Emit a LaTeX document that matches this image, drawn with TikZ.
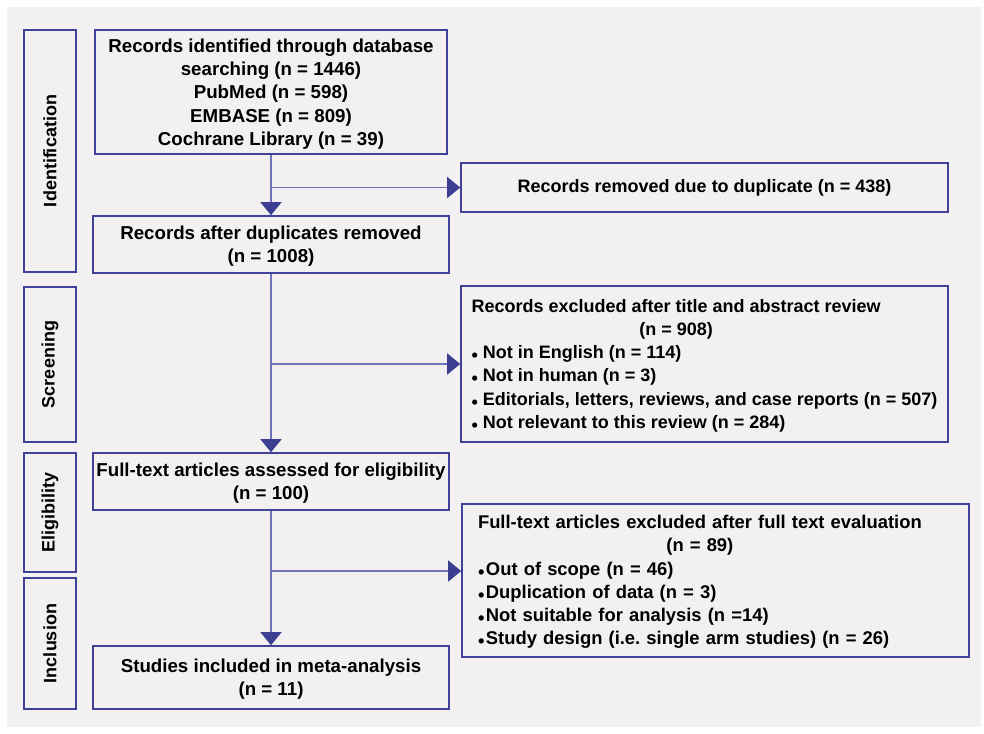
\documentclass[tikz,border=0pt]{standalone}
\usepackage{fontspec}
\setmainfont{Liberation Sans}
\usetikzlibrary{arrows.meta}
\definecolor{panel}{RGB}{242, 240, 240}
\definecolor{frame}{RGB}{64, 66, 150}
\definecolor{link}{RGB}{112, 116, 186}
\definecolor{tip}{RGB}{60, 62, 146}
\newcommand{\dotitem}[1][5pt]{\raisebox{-3pt}{\textbullet}\hspace{#1}}

\begin{document}
\begin{tikzpicture}[x=1pt, y=-1pt, font=\fontsize{18}{23.3}\selectfont\bfseries,
  box/.style={draw=frame, line width=1.6pt, align=center, inner sep=0pt},
  lbox/.style={box, minimum width=356pt, font=\fontsize{18.7}{23.3}\selectfont\bfseries,
    text depth=0pt},
  stage/.style={box, rotate=90, minimum height=52pt},
  flow/.style={link, line width=1.3pt, -{Triangle[width=21pt, length=13pt, color=tip]}}]

  \useasboundingbox (0, 0) rectangle (984, 733);
  \fill[white] (0, 0) rectangle (984, 733);
  \fill[panel] (7, 7) rectangle (981, 727);

  \node[stage, minimum width=242pt] (ident) at (50, 151) {Identification};
  \node[stage, minimum width=155pt] (screen) at (50, 364.5) {Screening};
  \node[stage, minimum width=119pt] (elig) at (50, 512.5) {Eligibility};
  \node[stage, minimum width=131pt] (incl) at (50, 643.5) {Inclusion};

  \node[lbox, minimum width=352pt, minimum height=124pt] (recid) at (271, 92)
    {Records identified through database\\searching (n = 1446)\\PubMed (n = 598)\\EMBASE (n = 809)\\Cochrane Library (n = 39)};
  \node[lbox, minimum height=57pt] (recdup) at (271, 244.5)
    {Records after duplicates removed\\(n = 1008)};
  \node[box, minimum width=487pt, minimum height=49pt] (removed) at (704.5, 187.5)
    {Records removed due to duplicate (n = 438)};
  \node[box, align=left, minimum width=487pt, minimum height=156pt] (excl1) at (704.5, 364)
    {\begin{tabular}[b]{@{}c@{}}Records excluded after title and abstract review\\(n = 908)\end{tabular}\\
     \dotitem Not in English (n = 114)\\
     \dotitem Not in human (n = 3)\\
     \dotitem Editorials, letters, reviews, and case reports (n = 507)\\
     \dotitem Not relevant to this review (n = 284)};
  \node[lbox, minimum height=57pt] (fulltext) at (271, 481.5)
    {Full-text articles assessed for eligibility\\(n = 100)};
  \node[box, align=left, text width=475pt, inner xsep=16pt, minimum height=153pt,
    font=\fontsize{18.4}{23.3}\selectfont\bfseries] (excl2) at (715.5, 580.5)
    {\begin{tabular}[b]{@{}c@{}}Full-text articles excluded after full text evaluation\\(n = 89)\end{tabular}\\
     \dotitem[1.5pt]Out of scope (n = 46)\\
     \dotitem[1.5pt]Duplication of data (n = 3)\\
     \dotitem[1.5pt]Not suitable for analysis (n =14)\\
     \dotitem[1.5pt]Study design (i.e.\ single arm studies) (n = 26)};
  \node[lbox, minimum height=63pt] (included) at (271, 677.5)
    {Studies included in meta-analysis\\(n = 11)};

  \draw[flow] (recid.south) -- (recdup.north);
  \coordinate (b1) at (recid.south |- removed.west);
  \draw[flow] (b1) -- (removed.west);

  \draw[flow] (recdup.south) -- (fulltext.north);
  \coordinate (b2) at (recdup.south |- excl1.west);
  \draw[flow] (b2) -- (excl1.west);

  \draw[flow] (fulltext.south) -- (included.north);
  \coordinate (b3) at (271, 571);
  \draw[flow] (b3) -- (b3 -| excl2.west);

\end{tikzpicture}
\end{document}
